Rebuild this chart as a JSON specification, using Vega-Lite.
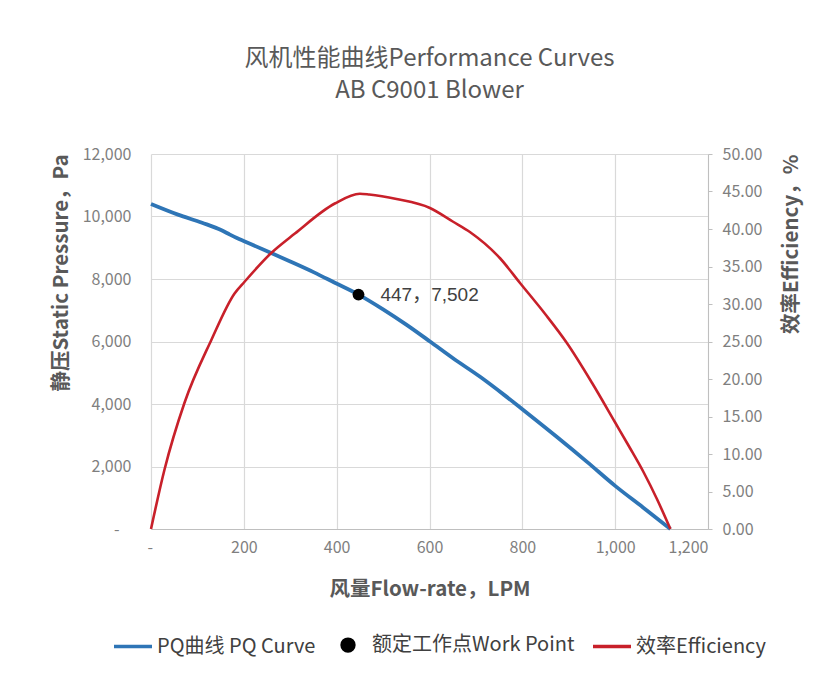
{
  "$schema": "https://vega.github.io/schema/vega-lite/v6.json",
  "autosize": {"type": "none"},
  "padding": {"left": 151, "top": 154, "right": 123, "bottom": 156},
  "width": 557,
  "height": 375,
  "background": "white",
  "title": {
    "text": ["风机性能曲线Performance Curves", "AB C9001 Blower"],
    "font": "Noto Sans CJK SC",
    "fontSize": 24,
    "fontWeight": "normal",
    "color": "#595959",
    "lineHeight": 32,
    "offset": 43,
    "anchor": "middle"
  },
  "datasets": {
    "pq": [
      {"series": "PQ曲线 PQ Curve", "flow": 0, "pressure": 10400},
      {"series": "PQ曲线 PQ Curve", "flow": 58, "pressure": 10060},
      {"series": "PQ曲线 PQ Curve", "flow": 110, "pressure": 9800},
      {"series": "PQ曲线 PQ Curve", "flow": 152, "pressure": 9560},
      {"series": "PQ曲线 PQ Curve", "flow": 170, "pressure": 9420},
      {"series": "PQ曲线 PQ Curve", "flow": 185, "pressure": 9310},
      {"series": "PQ曲线 PQ Curve", "flow": 202, "pressure": 9200},
      {"series": "PQ曲线 PQ Curve", "flow": 259, "pressure": 8830},
      {"series": "PQ曲线 PQ Curve", "flow": 300, "pressure": 8560},
      {"series": "PQ曲线 PQ Curve", "flow": 350, "pressure": 8220},
      {"series": "PQ曲线 PQ Curve", "flow": 396, "pressure": 7880},
      {"series": "PQ曲线 PQ Curve", "flow": 447, "pressure": 7502},
      {"series": "PQ曲线 PQ Curve", "flow": 500, "pressure": 7030},
      {"series": "PQ曲线 PQ Curve", "flow": 550, "pressure": 6540},
      {"series": "PQ曲线 PQ Curve", "flow": 601, "pressure": 6000},
      {"series": "PQ曲线 PQ Curve", "flow": 650, "pressure": 5470},
      {"series": "PQ曲线 PQ Curve", "flow": 709, "pressure": 4870},
      {"series": "PQ曲线 PQ Curve", "flow": 760, "pressure": 4300},
      {"series": "PQ曲线 PQ Curve", "flow": 800, "pressure": 3830},
      {"series": "PQ曲线 PQ Curve", "flow": 874, "pressure": 2950},
      {"series": "PQ曲线 PQ Curve", "flow": 940, "pressure": 2140},
      {"series": "PQ曲线 PQ Curve", "flow": 1000, "pressure": 1380},
      {"series": "PQ曲线 PQ Curve", "flow": 1060, "pressure": 690},
      {"series": "PQ曲线 PQ Curve", "flow": 1119, "pressure": 0}
    ],
    "work": [
      {"series": "额定工作点Work Point", "flow": 447, "pressure": 7502, "label": "447，7,502"}
    ],
    "eff": [
      {"series": "效率Efficiency", "flow": 0, "efficiency": 0},
      {"series": "效率Efficiency", "flow": 29, "efficiency": 7.9},
      {"series": "效率Efficiency", "flow": 72, "efficiency": 16.8},
      {"series": "效率Efficiency", "flow": 130, "efficiency": 25.2},
      {"series": "效率Efficiency", "flow": 180, "efficiency": 31.4},
      {"series": "效率Efficiency", "flow": 202, "efficiency": 33.0},
      {"series": "效率Efficiency", "flow": 259, "efficiency": 36.8},
      {"series": "效率Efficiency", "flow": 310, "efficiency": 39.4},
      {"series": "效率Efficiency", "flow": 396, "efficiency": 43.4},
      {"series": "效率Efficiency", "flow": 450, "efficiency": 44.7},
      {"series": "效率Efficiency", "flow": 470, "efficiency": 44.6},
      {"series": "效率Efficiency", "flow": 529, "efficiency": 44.0},
      {"series": "效率Efficiency", "flow": 601, "efficiency": 42.8},
      {"series": "效率Efficiency", "flow": 650, "efficiency": 41.0},
      {"series": "效率Efficiency", "flow": 687, "efficiency": 39.6},
      {"series": "效率Efficiency", "flow": 752, "efficiency": 36.1},
      {"series": "效率Efficiency", "flow": 795, "efficiency": 32.8},
      {"series": "效率Efficiency", "flow": 850, "efficiency": 28.6},
      {"series": "效率Efficiency", "flow": 896, "efficiency": 24.8},
      {"series": "效率Efficiency", "flow": 950, "efficiency": 19.5},
      {"series": "效率Efficiency", "flow": 1000, "efficiency": 14.2},
      {"series": "效率Efficiency", "flow": 1030, "efficiency": 11.0},
      {"series": "效率Efficiency", "flow": 1061, "efficiency": 7.6},
      {"series": "效率Efficiency", "flow": 1090, "efficiency": 4.0},
      {"series": "效率Efficiency", "flow": 1119, "efficiency": 0}
    ]
  },
  "config": {
    "font": "Noto Sans CJK SC",
    "view": {"stroke": null},
    "axis": {
      "labelFont": "Noto Sans CJK SC",
      "labelFontSize": 16,
      "labelColor": "#7F7F7F",
      "titleFont": "Noto Sans CJK SC",
      "titleFontSize": 20.5,
      "titleFontWeight": "bold",
      "titleColor": "#595959",
      "gridColor": "#D9D9D9",
      "gridWidth": 1.2,
      "domainColor": "#BFBFBF",
      "tickColor": "#BFBFBF"
    },
    "legend": {
      "labelFont": "Noto Sans CJK SC",
      "labelFontSize": 20,
      "labelColor": "#404040",
      "labelLimit": 0
    }
  },
  "encoding": {
    "x": {
      "field": "flow",
      "type": "quantitative",
      "scale": {"domain": [0, 1200], "nice": false, "zero": false},
      "axis": {
        "title": "风量Flow-rate，LPM",
        "values": [0, 200, 400, 600, 800, 1000, 1200],
        "labelExpr": "datum.value === 0 ? '-' : format(datum.value, ',')",
        "grid": true,
        "ticks": false,
        "domain": true,
        "labelPadding": 10,
        "titlePadding": 24,
        "labelOffset": {"condition": {"test": "datum.value === 0", "value": -4}, "value": 0}
      }
    }
  },
  "layer": [
    {
      "layer": [
        {
          "data": {"name": "pq"},
          "mark": {"type": "line", "strokeWidth": 3.8, "interpolate": "monotone"},
          "encoding": {
            "y": {
              "field": "pressure",
              "type": "quantitative",
              "scale": {"domain": [0, 12000], "nice": false},
              "axis": {
                "orient": "left",
                "title": "静压Static Pressure，Pa",
                "values": [0, 2000, 4000, 6000, 8000, 10000, 12000],
                "labelExpr": "datum.value === 0 ? '-' : format(datum.value, ',')",
                "grid": true,
                "ticks": false,
                "domain": false,
                "labelPadding": {"condition": {"test": "datum.value === 0", "value": 32}, "value": 20},
                "titlePadding": 11,
                "titleAnchor": "end",
                "titleAlign": "right",
                "titleAngle": -90
              }
            },
            "color": {
              "field": "series",
              "type": "nominal",
              "scale": {
                "domain": ["PQ曲线 PQ Curve", "额定工作点Work Point", "效率Efficiency"],
                "range": ["#2E75B6", "#000000", "#C8202A"]
              },
              "legend": {
                "title": null,
                "orient": "none",
                "legendX": -39,
                "legendY": 470,
                "direction": "horizontal",
                "symbolType": "stroke",
                "symbolSize": 1444,
                "symbolStrokeWidth": 3.5,
                "labelOffset": 3,
                "columnPadding": 11,
                "encode": {
                  "symbols": {
                    "update": {
                      "shape": {"signal": "datum.value === '额定工作点Work Point' ? 'circle' : 'stroke'"},
                      "size": {"signal": "datum.value === '额定工作点Work Point' ? 140 : 1444"},
                      "fill": {"signal": "datum.value === '额定工作点Work Point' ? '#000000' : 'transparent'"},
                      "stroke": {"signal": "datum.value === '额定工作点Work Point' ? 'transparent' : scale('color', datum.value)"},
                      "strokeWidth": {"value": 3.5}
                    }
                  }
                }
              }
            }
          }
        },
        {
          "data": {"name": "work"},
          "mark": {"type": "point", "filled": true, "size": 140, "opacity": 1},
          "encoding": {
            "y": {"field": "pressure", "type": "quantitative"},
            "color": {"field": "series", "type": "nominal"}
          }
        },
        {
          "data": {"name": "work"},
          "mark": {"type": "text", "align": "left", "baseline": "middle", "dx": 22, "fontSize": 19, "color": "#404040", "font": "Liberation Sans, Noto Sans CJK SC"},
          "encoding": {
            "y": {"field": "pressure", "type": "quantitative"},
            "text": {"field": "label"}
          }
        }
      ]
    },
    {
      "data": {"name": "eff"},
      "mark": {"type": "line", "strokeWidth": 2.6, "interpolate": "monotone"},
      "encoding": {
        "y": {
          "field": "efficiency",
          "type": "quantitative",
          "scale": {"domain": [0, 50], "nice": false},
          "axis": {
            "orient": "right",
            "title": "效率Efficiency，%",
            "values": [0, 5, 10, 15, 20, 25, 30, 35, 40, 45, 50],
            "format": ".2f",
            "grid": false,
            "ticks": true,
            "tickSize": 4,
            "domain": true,
            "labelPadding": 10,
            "titlePadding": 40,
            "titleAnchor": "end",
            "titleAlign": "right",
            "titleAngle": -90
          }
        },
        "color": {"field": "series", "type": "nominal"}
      }
    }
  ],
  "resolve": {"scale": {"y": "independent"}}
}
